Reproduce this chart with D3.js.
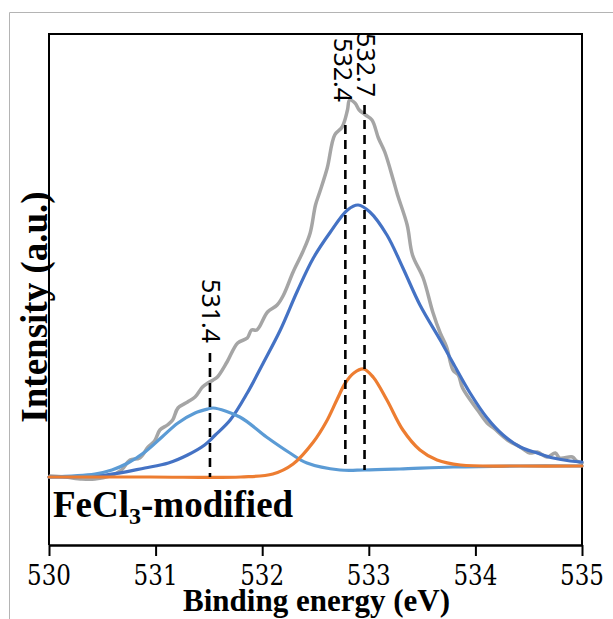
<!DOCTYPE html>
<html>
<head>
<meta charset="utf-8">
<script src="https://cdn.jsdelivr.net/npm/d3@7"></script>
<style>
  body { margin: 0; background: #fff; }
  svg { display: block; }
</style>
</head>
<body>
<svg id="chart" width="613" height="619"></svg>
<script>
// ---------- DATA (binding energy in eV, intensity in a.u.) ----------
const xTicks = [530, 531, 532, 533, 534, 535];
const xTickLabels = ["530", "531", "532", "533", "534", "535"];

// measured envelope (grey, noisy)
const envelope = [
  [530.01, 1], [530.15, 0], [530.31, -2], [530.43, -2], [530.57, 1], [530.68, 7],
  [530.76, 17], [530.85, 19], [530.93, 30], [530.99, 36], [531.04, 47], [531.11, 52],
  [531.16, 57], [531.21, 69], [531.30, 75], [531.37, 80], [531.44, 90], [531.49, 94],
  [531.54, 97], [531.58, 100], [531.67, 115], [531.77, 134], [531.86, 139], [531.90, 147],
  [531.95, 147], [532.05, 165], [532.14, 172], [532.20, 182], [532.29, 205], [532.38, 225],
  [532.45, 244], [532.50, 272], [532.54, 285], [532.61, 309], [532.68, 342], [532.75, 350],
  [532.80, 367], [532.82, 377], [532.87, 374], [532.91, 367], [532.97, 362], [533.03, 357],
  [533.09, 339], [533.15, 325], [533.23, 297], [533.27, 282], [533.36, 252], [533.41, 222],
  [533.51, 199], [533.60, 165], [533.67, 144], [533.73, 130], [533.79, 107], [533.84, 102],
  [533.88, 89], [534.02, 67], [534.11, 54], [534.17, 49], [534.30, 37], [534.42, 30],
  [534.51, 24], [534.58, 25], [534.67, 20], [534.75, 24], [534.79, 19], [534.91, 20],
  [534.95, 16], [535.00, 14]
];

// fitted component at ~532.7 eV (dark blue)
const peakMain = [
  [530.00, 0], [530.53, 2], [530.90, 9], [531.12, 14], [531.30, 22], [531.46, 32],
  [531.56, 42], [531.70, 57], [531.86, 84], [532.01, 114], [532.17, 147], [532.33, 186],
  [532.48, 219], [532.64, 245], [532.80, 267], [532.90, 272], [533.01, 265], [533.17, 242],
  [533.32, 209], [533.48, 172], [533.67, 137], [533.79, 114], [533.95, 84], [534.11, 59],
  [534.26, 42], [534.42, 30], [534.58, 24], [534.73, 19], [534.89, 16], [535.00, 15]
];

// fitted component at ~531.4 eV (light blue)
const peakLow = [
  [530.00, 0], [530.43, 3], [530.59, 7], [530.74, 14], [530.90, 25], [531.06, 40],
  [531.21, 54], [531.37, 64], [531.49, 68], [531.54, 69], [531.79, 60], [532.04, 40],
  [532.26, 24], [532.42, 14], [532.73, 7], [532.96, 7], [533.29, 8], [533.79, 10],
  [534.42, 11], [535.00, 11]
];

// fitted component at ~532.4 eV (orange)
const peakHigh = [
  [530.00, 0], [530.95, 0], [531.80, 0], [532.10, 3], [532.29, 13], [532.48, 35],
  [532.60, 55], [532.70, 77], [532.78, 94], [532.86, 104], [532.95, 108], [533.04, 100],
  [533.17, 77], [533.32, 47], [533.48, 27], [533.64, 17], [533.86, 12], [534.42, 11],
  [535.00, 11]
];

// dashed marker lines: position (eV), label, top and bottom intensity
const markerPos = [531.51, 532.78, 532.96];
const markerLabels = ["531.4", "532.4", "532.7"];
const markerTop = [124, 352, 372];
const markerBottom = [0, 7, 7];

const sampleName = "FeCl";
const sampleSub = "3";
const sampleSuffix = "-modified";
const xTitle = "Binding energy (eV)";
const yTitle = "Intensity (a.u.)";

// ---------- LAYOUT ----------
const SERIF = "Liberation Serif";
const svg = d3.select("#chart");
const L = 49, R = 582, T = 34, B = 545;

const x = d3.scaleLinear().domain([530, 535]).range([L, R]);
const y = d3.scaleLinear().domain([-68, 443]).range([B, T]);

// outer light border
svg.append("path")
  .attr("d", `M9.5,619 L9.5,12.5 L613,12.5`)
  .attr("fill", "none").attr("stroke", "#b4b4b4").attr("stroke-width", 1);

// plot frame (top, left, right)
svg.append("path")
  .attr("d", `M${L},${B} L${L},${T} L${R},${T} L${R},${B}`)
  .attr("fill", "none").attr("stroke", "#000").attr("stroke-width", 2);

// x axis (ticks from d3 axis, labels drawn below from the same scale)
const xAxis = svg.append("g")
  .attr("transform", `translate(0,${B})`)
  .call(d3.axisBottom(x).tickValues(xTicks).tickFormat("")
    .tickSize(11).tickSizeOuter(0));
xAxis.select(".domain").attr("stroke", "#000").attr("stroke-width", 2.5);
xAxis.selectAll(".tick line").attr("stroke", "#000").attr("stroke-width", 2);

svg.append("g").selectAll("text").data(xTicks).join("text")
  .attr("x", d => x(d)).attr("y", 585)
  .attr("text-anchor", "middle")
  .attr("font-family", "DejaVu Serif")
  .attr("font-size", 27)
  .attr("textLength", 44)
  .attr("lengthAdjust", "spacingAndGlyphs")
  .attr("fill", "#000")
  .text((d, i) => xTickLabels[i]);

// curves
const line = d3.line().x(d => x(d[0])).y(d => y(d[1])).curve(d3.curveCatmullRom.alpha(0.5));
const series = [
  { data: envelope, color: "#A5A5A5", w: 3.5 },
  { data: peakMain, color: "#4472C4", w: 3.2 },
  { data: peakLow, color: "#5B9BD5", w: 3.2 },
  { data: peakHigh, color: "#ED7D31", w: 3.2 }
];
svg.append("g").selectAll("path").data(series).join("path")
  .attr("d", d => line(d.data))
  .attr("fill", "none")
  .attr("stroke", d => d.color)
  .attr("stroke-width", d => d.w)
  .attr("stroke-linejoin", "round")
  .attr("stroke-linecap", "round");

// dashed markers
svg.append("g").selectAll("line").data(markerPos).join("line")
  .attr("x1", d => x(d)).attr("x2", d => x(d))
  .attr("y1", (d, i) => y(markerTop[i]))
  .attr("y2", (d, i) => y(markerBottom[i]))
  .attr("stroke", "#000").attr("stroke-width", 2.6)
  .attr("stroke-dasharray", "9,6");

// marker labels (rotated, reading downward)
const labelLayout = [
  { dx: 2, yEnd: 343 },
  { dx: -1, yEnd: 102 },
  { dx: 2, yEnd: 97 }
];
svg.append("g").selectAll("text").data(markerLabels).join("text")
  .attr("transform", (d, i) => `translate(${x(markerPos[i]) + labelLayout[i].dx},${labelLayout[i].yEnd}) rotate(90)`)
  .attr("text-anchor", "end")
  .attr("dominant-baseline", "central")
  .attr("font-family", "Noto Sans")
  .attr("font-size", 25)
  .attr("fill", "#000")
  .text(d => d);

// sample name
const nm = svg.append("text")
  .attr("x", 53).attr("y", 517)
  .attr("font-family", SERIF)
  .attr("font-weight", "bold").attr("font-size", 37).attr("fill", "#000");
nm.append("tspan").text(sampleName);
nm.append("tspan").attr("font-size", 24).attr("dy", 7).text(sampleSub);
nm.append("tspan").attr("dy", -7).text(sampleSuffix);

// axis titles
svg.append("text")
  .attr("x", (L + R) / 2 + 1).attr("y", 611)
  .attr("text-anchor", "middle")
  .attr("font-family", SERIF)
  .attr("font-weight", "bold").attr("font-size", 31).attr("fill", "#000")
  .text(xTitle);

svg.append("text")
  .attr("transform", `translate(47,307) rotate(-90)`)
  .attr("text-anchor", "middle")
  .attr("font-family", SERIF)
  .attr("font-weight", "bold").attr("font-size", 37).attr("fill", "#000")
  .text(yTitle);
</script>
</body>
</html>
